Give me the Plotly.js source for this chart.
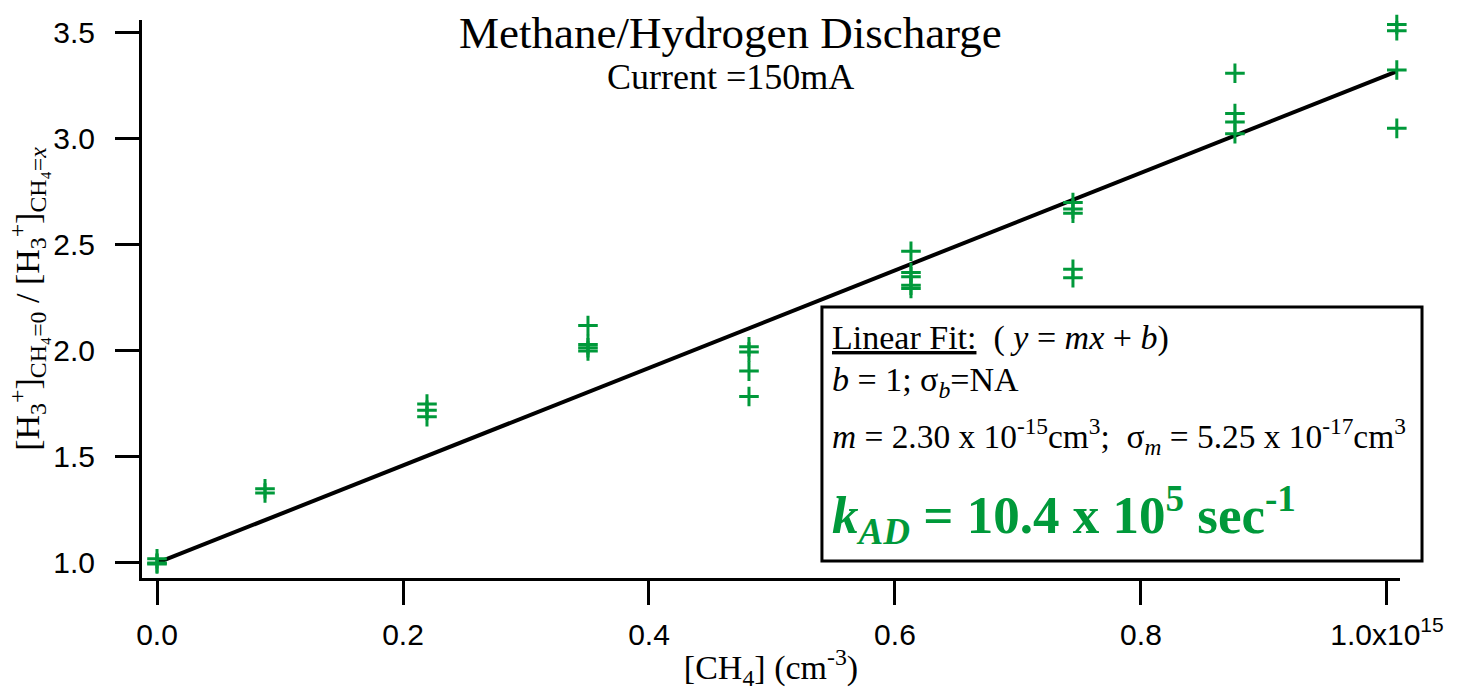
<!DOCTYPE html>
<html>
<head>
<meta charset="utf-8">
<script src="https://cdn.plot.ly/plotly-3.0.1.min.js"></script>
<style>html,body{margin:0;padding:0;background:#fff;}#chart{width:1461px;height:694px;}</style>
</head>
<body>
<div id="chart"></div>
<script>
// CH4 density (units of 1e15 cm^-3) and ratio values
const concentration = [
  0, 0, 0,
  0.0878, 0.0878,
  0.2195, 0.2195, 0.2195,
  0.3504, 0.3504, 0.3504, 0.3504,
  0.4813, 0.4813, 0.4813, 0.4813,
  0.613, 0.613, 0.613, 0.613, 0.613,
  0.7447, 0.7447, 0.7447, 0.7447, 0.7447,
  0.8764, 0.8764, 0.8764, 0.8764,
  1.008, 1.008, 1.008, 1.008
];
const ratio = [
  1.02, 1.0, 0.995,
  1.35, 1.33,
  1.75, 1.72, 1.69,
  2.12, 2.03, 2.015, 2.0,
  2.02, 1.995, 1.905, 1.785,
  2.47, 2.37, 2.35, 2.31, 2.295,
  2.70, 2.67, 2.65, 2.385, 2.345,
  3.31, 3.12, 3.08, 3.025,
  3.54, 3.51, 3.325, 3.05
];
// linear fit parameters: y = m x + b (x in 1e15 cm^-3)
const fitSlope = 2.30;
const fitIntercept = 1;
const fitRange = [0, 1.008];
const xTickVals = [0, 0.2, 0.4, 0.6, 0.8, 1.0];
const xTickText = ["0.0", "0.2", "0.4", "0.6", "0.8", "1.0x10<sup>15</sup>"];
const yTickVals = [1.0, 1.5, 2.0, 2.5, 3.0, 3.5];
const yTickText = ["1.0", "1.5", "2.0", "2.5", "3.0", "3.5"];

const SCALE = 1e15;
const green = "#00993a";
const serif = "Liberation Serif, Times New Roman, serif";
const sans = "Liberation Sans, Arial, sans-serif";

const pts = {
  x: concentration.map(v => v * SCALE),
  y: ratio,
  type: "scatter",
  mode: "markers",
  marker: {symbol: "cross-thin", size: 14, color: green, line: {color: green, width: 3}},
  cliponaxis: false,
  showlegend: false,
  hoverinfo: "x+y"
};
const fit = {
  x: fitRange.map(v => v * SCALE),
  y: fitRange.map(v => fitSlope * v + fitIntercept),
  type: "scatter",
  mode: "lines",
  line: {color: "#000", width: 4},
  cliponaxis: false,
  showlegend: false
};

const layout = {
  width: 1461, height: 694,
  margin: {l: 142, r: 61, t: 20, b: 116},
  paper_bgcolor: "#fff", plot_bgcolor: "#fff",
  showlegend: false,
  xaxis: {
    range: [-0.0122 * SCALE, 1.0106 * SCALE],
    tickvals: xTickVals.map(v => v * SCALE), ticktext: xTickText,
    showgrid: false, zeroline: false, showline: true, linecolor: "#000", linewidth: 3,
    ticks: "outside", ticklen: 24, tickwidth: 3, tickcolor: "#000",
    tickfont: {family: sans, size: 30, color: "#000"},
    ticklabelstandoff: 4,
    title: {text: "[CH<sub>4</sub>] (cm<sup>-3</sup>)", font: {family: serif, size: 34, color: "#000"}, standoff: 6}
  },
  yaxis: {
    range: [0.929, 3.561],
    tickvals: yTickVals, ticktext: yTickText,
    showgrid: false, zeroline: false, showline: true, linecolor: "#000", linewidth: 3,
    ticks: "outside", ticklen: 24, tickwidth: 3, tickcolor: "#000",
    tickfont: {family: sans, size: 30, color: "#000"},
    ticklabelstandoff: 14,
    title: {text: "[H<sub>3</sub><sup>+</sup>]<sub>CH₄=0</sub> / [H<sub>3</sub><sup>+</sup>]<sub>CH₄=<i>x</i></sub>", font: {family: serif, size: 34, color: "#000"}, standoff: 4}
  },
  shapes: [{
    type: "rect", xref: "paper", yref: "paper",
    x0: 0.5405, x1: 1.0175, y0: 0.0305, y1: 0.4857,
    line: {color: "#000", width: 3}, fillcolor: "rgba(255,255,255,0)"
  }],
  annotations: [
    {xref: "paper", yref: "paper", x: 0.4682, y: 0.977, xanchor: "center", yanchor: "middle",
     text: "Methane/Hydrogen Discharge", showarrow: false, font: {family: serif, size: 45, color: "#000"}},
    {xref: "paper", yref: "paper", x: 0.4682, y: 0.898, xanchor: "center", yanchor: "middle",
     text: "Current =150mA", showarrow: false, font: {family: serif, size: 36, color: "#000"}},
    {xref: "paper", yref: "paper", x: 0.547, y: 0.430, xanchor: "left", yanchor: "middle",
     text: "<u>Linear Fit:</u>  ( <i>y</i> = <i>mx</i> + <i>b</i>)", showarrow: false, font: {family: serif, size: 34, color: "#000"}},
    {xref: "paper", yref: "paper", x: 0.547, y: 0.351, xanchor: "left", yanchor: "middle",
     text: "<i>b</i> = 1; σ<sub><i>b</i></sub>=NA", showarrow: false, font: {family: serif, size: 34, color: "#000"}},
    {xref: "paper", yref: "paper", x: 0.547, y: 0.253, xanchor: "left", yanchor: "middle",
     text: "<i>m</i> = 2.30 x 10<sup>-15</sup>cm<sup>3</sup>;  σ<sub><i>m</i></sub> = 5.25 x 10<sup>-17</sup>cm<sup>3</sup>", showarrow: false, font: {family: serif, size: 33.4, color: "#000"}},
    {xref: "paper", yref: "paper", x: 0.547, y: 0.113, xanchor: "left", yanchor: "middle",
     text: "<b><i>k<sub>AD</sub></i> = 10.4 x 10<sup>5</sup> sec<sup>-1</sup></b>", showarrow: false, font: {family: serif, size: 53, color: green}}
  ]
};

Plotly.newPlot("chart", [fit, pts], layout, {displayModeBar: false, staticPlot: true});
</script>
</body>
</html>
